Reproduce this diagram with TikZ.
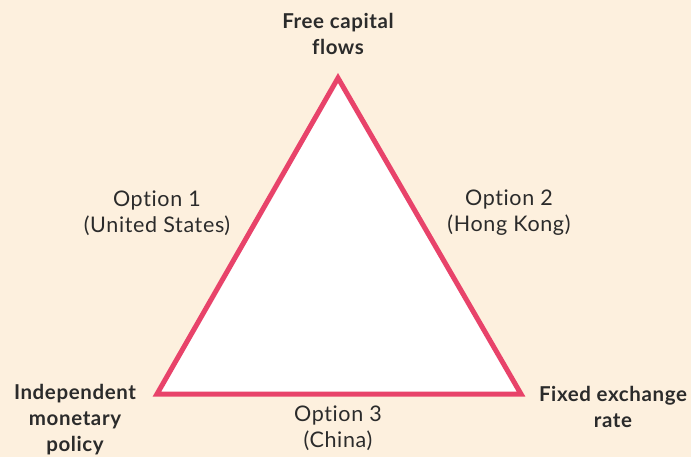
\documentclass[tikz,border=0pt]{standalone}
\usepackage{fontspec}
\setmainfont{Lato}[LetterSpace=3,Ligatures=NoCommon]
\definecolor{bgcream}{HTML}{FDF0DE}
\definecolor{trired}{HTML}{E8436A}
\definecolor{txtgray}{HTML}{2B2B2B}
\begin{document}
\begin{tikzpicture}[x=1pt,y=-1pt,
  lbl/.style={align=center,font=\fontsize{21.5}{26}\selectfont,text=txtgray,inner sep=0pt},
  blbl/.style={lbl,font=\fontsize{20.5}{26}\selectfont\bfseries}]
\fill[bgcream] (0,0) rectangle (691,457);
\useasboundingbox (0,0) rectangle (691,457);
\coordinate (A) at (338,78);
\coordinate (B) at (157,394);
\coordinate (C) at (521,394);
\draw[trired,line width=5pt,fill=white,line join=miter] (A) -- (B) -- (C) -- cycle;
\node[blbl] (top) at (338,34) {Free capital\\flows};
\node[blbl] (left) at (75,420) {Independent\\monetary\\policy};
\node[blbl] (right) at (613,407) {Fixed exchange\\rate};
\node[lbl] (o1) at (157,213) {Option 1\\(United States)};
\node[lbl] (o2) at (509,213) {Option 2\\(Hong Kong)};
\node[lbl] (o3) at (338,428) {Option 3\\(China)};
\end{tikzpicture}
\end{document}
